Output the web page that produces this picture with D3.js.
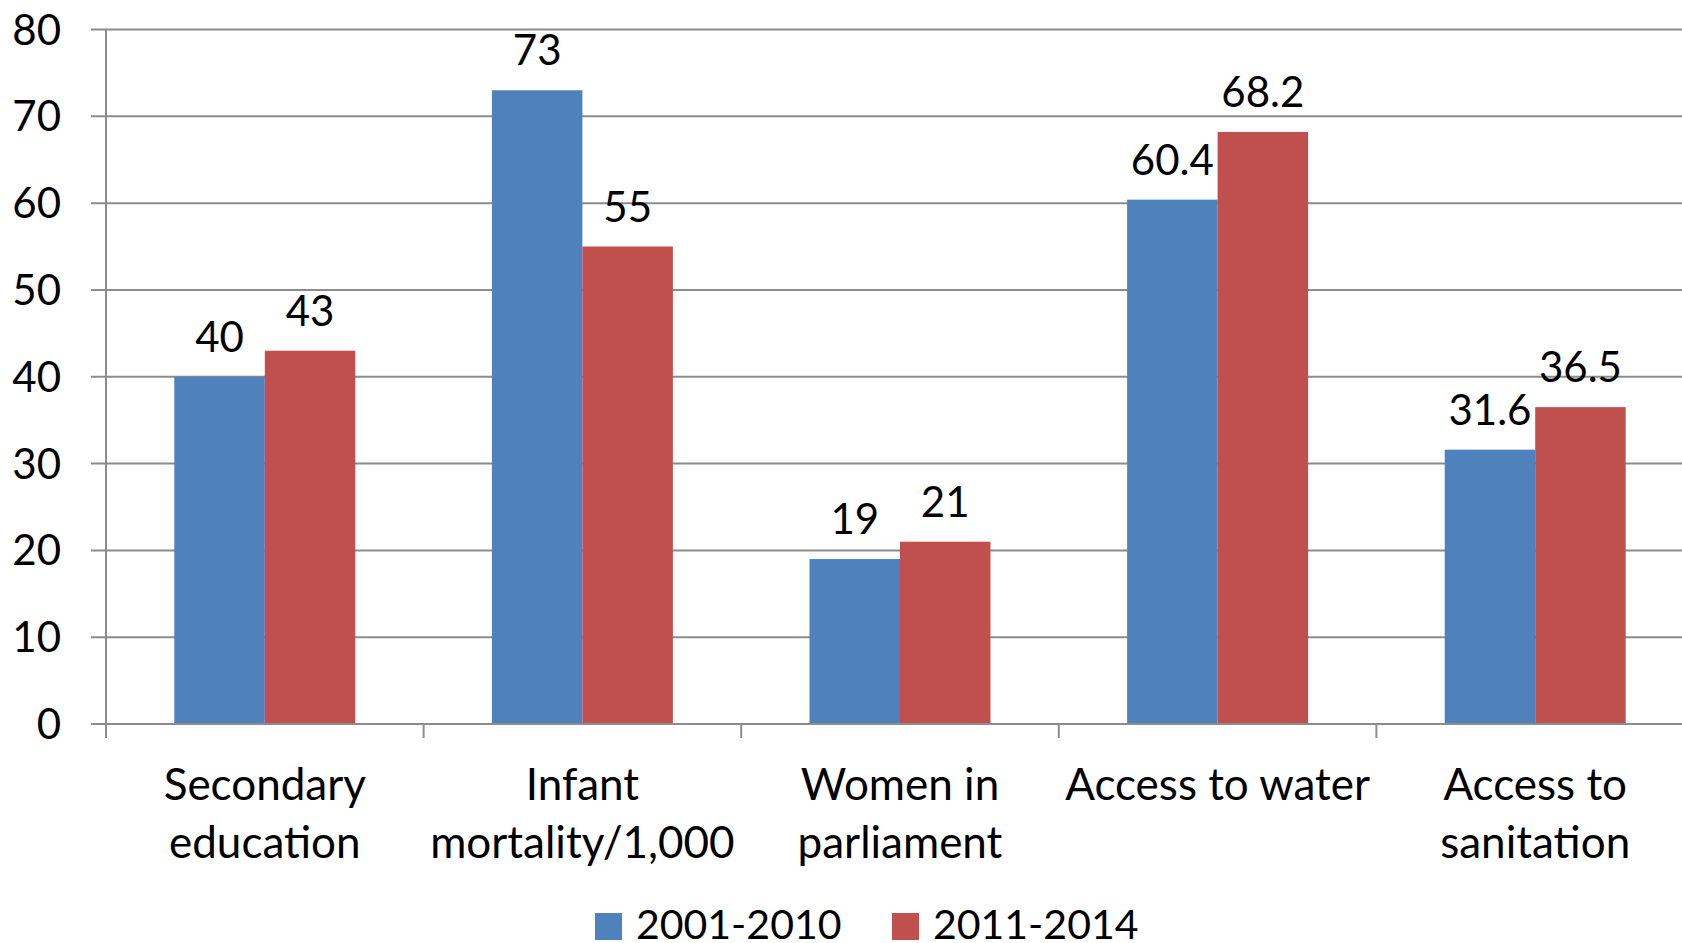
<!DOCTYPE html>
<html>
<head>
<meta charset="utf-8">
<script src="https://d3js.org/d3.v7.min.js"></script>
<style>
  body { margin: 0; background: #fff; }
  text { font-family: Lato, "Open Sans", sans-serif; fill: #000; }
</style>
</head>
<body>
<div id="chart"></div>
<script>

// data
var categories = [["Secondary", "education"], ["Infant", "mortality/1,000"], ["Women in", "parliament"], ["Access to water"], ["Access to", "sanitation"]]
var seriesNames = ["2001-2010", "2011-2014"]
var values2001 = [40, 73, 19, 60.4, 31.6]
var values2011 = [43, 55, 21, 68.2, 36.5]
var yTicks = [0, 10, 20, 30, 40, 50, 60, 70, 80]
var colors = ["#4F81BD", "#C0504D"]

var width = 1682
var height = 943
var plotLeft = 106, plotTop = 29.5, plotBottom = 724
var step = 317.6

var svg = d3.select("#chart")
  .append("svg")
    .attr("width", width)
    .attr("height", height)

var idx = d3.range(categories.length)

var x0 = d3.scaleBand()
  .domain(idx)
  .range([plotLeft, plotLeft + step * categories.length])
  .padding(0)

var x1 = d3.scaleBand()
  .domain(seriesNames)
  .range([0, x0.bandwidth()])
  .paddingInner(0)
  .paddingOuter(0.755)

var y = d3.scaleLinear()
  .domain([0, 80])
  .range([plotBottom, plotTop])

// gridlines
svg.append("g")
  .selectAll("line")
  .data(yTicks)
  .enter()
  .append("line")
    .attr("x1", plotLeft - 15)
    .attr("x2", width)
    .attr("y1", function(d){ return y(d) })
    .attr("y2", function(d){ return y(d) })
    .attr("stroke", "#8c8c8c")
    .attr("stroke-width", 2)

// y tick labels
svg.append("g")
  .selectAll("text")
  .data(yTicks)
  .enter()
  .append("text")
    .attr("x", 61)
    .attr("y", function(d){ return y(d) })
    .attr("dy", "0.36em")
    .attr("text-anchor", "end")
    .style("font-size", "42px")
    .text(function(d){ return d })

// bars
var rows = idx.map(function(i){
  return [{s: seriesNames[0], v: values2001[i], c: colors[0]}, {s: seriesNames[1], v: values2011[i], c: colors[1]}]
})

var groups = svg.append("g")
  .selectAll("g")
  .data(rows)
  .enter()
  .append("g")
    .attr("transform", function(d, i){ return "translate(" + x0(i) + ",0)" })

groups.selectAll("rect")
  .data(function(d){ return d })
  .enter()
  .append("rect")
    .attr("x", function(d){ return x1(d.s) })
    .attr("width", x1.bandwidth())
    .attr("y", function(d){ return y(d.v) })
    .attr("height", function(d){ return y(0) - y(d.v) })
    .attr("fill", function(d){ return d.c })

groups.selectAll("text")
  .data(function(d){ return d })
  .enter()
  .append("text")
    .attr("x", function(d){ return x1(d.s) + x1.bandwidth() / 2 })
    .attr("y", function(d){ return y(d.v) - 25 })
    .attr("text-anchor", "middle")
    .style("font-size", "42px")
    .text(function(d){ return d.v })

// axes lines
svg.append("line")
  .attr("x1", plotLeft).attr("x2", plotLeft)
  .attr("y1", plotTop).attr("y2", plotBottom + 14)
  .attr("stroke", "#8c8c8c").attr("stroke-width", 2)

svg.append("line")
  .attr("x1", plotLeft - 15).attr("x2", width)
  .attr("y1", plotBottom).attr("y2", plotBottom)
  .attr("stroke", "#8c8c8c").attr("stroke-width", 2)

svg.append("g")
  .selectAll("line")
  .data(d3.range(1, categories.length + 1))
  .enter()
  .append("line")
    .attr("x1", function(d){ return plotLeft + step * d })
    .attr("x2", function(d){ return plotLeft + step * d })
    .attr("y1", plotBottom)
    .attr("y2", plotBottom + 14)
    .attr("stroke", "#8c8c8c").attr("stroke-width", 2)

// category labels
var catLabels = svg.append("g")
  .selectAll("text")
  .data(categories)
  .enter()
  .append("text")
    .attr("text-anchor", "middle")
    .style("font-size", "44px")

catLabels.selectAll("tspan")
  .data(function(d, i){ return d.map(function(t){ return {t: t, i: i} }) })
  .enter()
  .append("tspan")
    .attr("x", function(d){ return x0(d.i) + x0.bandwidth() / 2 })
    .attr("y", function(d, j){ return 800 + j * 58 })
    .text(function(d){ return d.t })

// legend (touches the bottom edge, as in the original)
var legendX = [595, 892]
var legend = svg.append("g")
  .selectAll("g")
  .data(seriesNames)
  .enter()
  .append("g")
    .attr("transform", function(d, i){ return "translate(" + legendX[i] + ",0)" })

legend.append("rect")
  .attr("x", 0)
  .attr("y", 913)
  .attr("width", 27)
  .attr("height", 27)
  .attr("fill", function(d, i){ return colors[i] })

legend.append("text")
  .attr("x", 41)
  .attr("y", 939)
  .style("font-size", "41px")
  .text(function(d){ return d })

</script>
</body>
</html>
